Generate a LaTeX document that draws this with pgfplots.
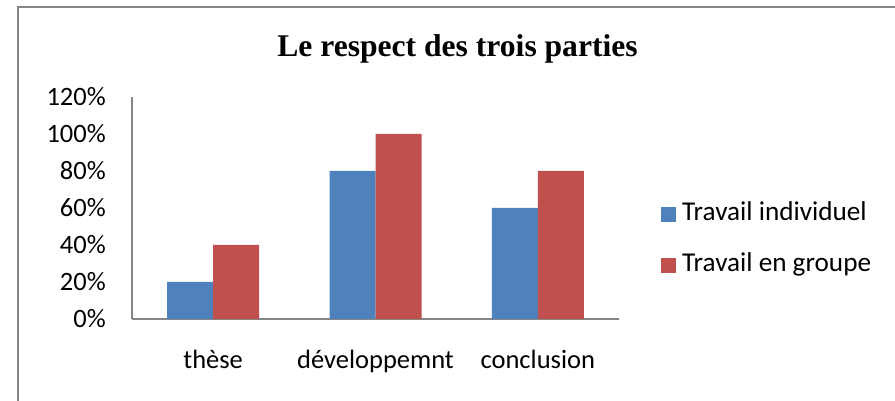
\documentclass[border=0pt]{standalone}
\usepackage{fontspec}
\setmainfont{Carlito}
\newfontfamily\titlefont{Liberation Serif}
\usepackage{pgfplots}
\pgfplotsset{compat=1.18}
\definecolor{cblue}{RGB}{79,129,189}
\definecolor{cred}{RGB}{192,80,77}
\definecolor{cgray}{RGB}{134,134,134}
\begin{document}
\begin{tikzpicture}[x=1pt,y=1pt]
\useasboundingbox (0,0) rectangle (895,401);
\draw[cgray, line width=2pt] (18,-5) -- (18,394) -- (900,394);
\node[font=\titlefont\bfseries\fontsize{31.6}{36}\selectfont, anchor=base] at (457.5,344) {Le respect des trois parties};
\begin{axis}[
  at={(132pt,82pt)}, anchor=south west,
  scale only axis, width=487pt, height=222pt,
  xmin=-0.5, xmax=2.5, ymin=0, ymax=1.2,
  axis lines*=left,
  axis line style={cgray, line width=1.5pt, -},
  major tick length=0pt,
  xtick=data,
  xticklabels={thèse, développemnt, conclusion},
  ytick={0,0.2,0.4,0.6,0.8,1.0,1.2},
  yticklabels={0\%,20\%,40\%,60\%,80\%,100\%,120\%},
  tick label style={font=\fontsize{26.5}{30}\selectfont, inner sep=0pt},
  xticklabel style={anchor=base, yshift=-50pt},
  yticklabel style={anchor=east, xshift=-26pt},
  ybar=0pt, bar width=46pt,
  legend style={draw=none, fill=none, at={(1.0862,0.358)}, anchor=west,
    font=\fontsize{27.2}{30}\selectfont, inner sep=0pt,
    row sep=27pt,
    nodes={inner sep=0pt, text height=18pt, text depth=6pt},
    legend cell align=left},
  legend image code/.code={\fill[#1] (0pt,-7.5pt) rectangle (15pt,7.5pt); \path (21pt,0pt);},
]
\addplot[fill=cblue, draw=none] coordinates {(0,0.2) (1,0.8) (2,0.6)};
\addplot[fill=cred, draw=none] coordinates {(0,0.4) (1,1.0) (2,0.8)};
\legend{Travail individuel, Travail en groupe}
\end{axis}
\end{tikzpicture}
\end{document}
